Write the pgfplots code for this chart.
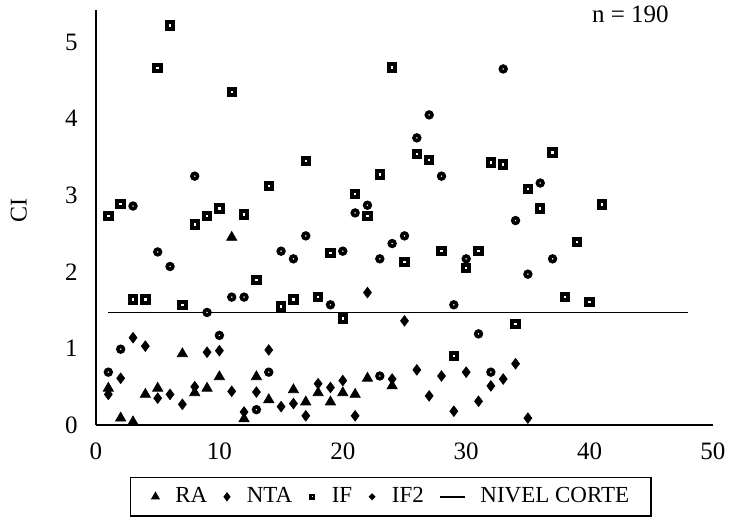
\documentclass[border=0pt]{standalone}
\usepackage{pgfplots}
\pgfplotsset{compat=1.18}
\usepackage{fontspec}
\setmainfont{Liberation Serif}

\begin{document}
\begin{tikzpicture}
\begin{axis}[
    width=308.5pt, height=207.5pt, scale only axis,
    xmin=0, xmax=50, ymin=0, ymax=5.42,
    axis lines=left, axis line style={-, line width=1pt},
    xtick={0,10,20,30,40,50}, ytick={0,1,2,3,4,5},
    tick style={draw=none},
    /pgf/number format/assume math mode=true,
    ticklabel style={font=\fontsize{12.5}{14}\selectfont},
    yticklabel style={xshift=-3.5pt},
    xticklabel style={yshift=-3.5pt},
    ylabel={CI}, ylabel style={font=\fontsize{12}{14}\selectfont, at={(axis description cs:-0.125,0.518)}, anchor=center},
    legend columns=-1,
    legend style={at={(0.478,-0.125)}, anchor=north, draw=black, line width=0.8pt,
        font=\fontsize{11.5}{13}\selectfont, inner xsep=10pt, inner ysep=3pt,
        nodes={inner xsep=1pt},
        /tikz/every odd column/.append style={column sep=6.5pt},
        /tikz/every even column/.append style={column sep=6.5pt}},
    clip=false,
]
\coordinate (O) at (rel axis cs:0,0);
\addplot[only marks, mark=triangle*, mark size=2.9pt, black,
    legend image code/.code={\path (-2pt,0pt) (2pt,0pt); \draw[black, only marks, mark=triangle*, mark size=1.9pt] plot coordinates {(0pt,0pt)};}] coordinates {
(1,0.48) (2,0.09) (3,0.04) (4,0.40) (5,0.48) (7,0.93) (8,0.42) (9,0.48) (10,0.63)
(11,2.45) (12,0.08) (13,0.63) (14,0.33) (16,0.46) (17,0.30) (18,0.42) (19,0.30)
(20,0.42) (21,0.40) (22,0.61) (24,0.51)
};
\addlegendentry{RA}
\addplot[only marks, mark=diamond*, mark size=2.6pt, black,
    legend image code/.code={\path (-2pt,0pt) (2pt,0pt); \draw[black, only marks, mark=diamond*, mark size=1.7pt] plot coordinates {(0pt,0pt)};}] coordinates {
(1,0.40) (2,0.61) (3,1.14) (4,1.03) (5,0.35) (6,0.40) (7,0.27) (8,0.50) (9,0.95)
(10,0.97) (11,0.44) (12,0.17) (13,0.43) (14,0.98) (15,0.24) (16,0.28) (17,0.12)
(18,0.54) (19,0.49) (20,0.58) (21,0.12) (22,1.73) (24,0.60) (25,1.36) (26,0.72)
(27,0.38) (28,0.64) (29,0.18) (30,0.69) (31,0.31) (32,0.51) (33,0.60) (34,0.80)
(35,0.09)
};
\addlegendentry{NTA}
\addplot[only marks, mark=square*, mark size=1.6pt, black, mark options={fill=white, line width=2pt},
    legend image code/.code={\path (-2pt,0pt) (2pt,0pt); \draw[black, only marks, mark=square*, mark size=0.9pt, mark options={fill=white, line width=1.3pt}] plot coordinates {(0pt,0pt)};}] coordinates {
(1,2.73) (2,2.89) (3,1.64) (4,1.64) (5,4.66) (6,5.22) (7,1.57) (8,2.62) (9,2.73)
(10,2.83) (11,4.35) (12,2.75) (13,1.89) (14,3.12) (15,1.55) (16,1.64) (17,3.45)
(18,1.67) (19,2.25) (20,1.39) (21,3.02) (22,2.73) (23,3.27) (24,4.67) (25,2.13)
(26,3.54) (27,3.46) (28,2.27) (29,0.90) (30,2.05) (31,2.27) (32,3.43) (33,3.40)
(34,1.32) (35,3.08) (36,2.83) (37,3.56) (38,1.67) (39,2.39) (40,1.61) (41,2.88)
};
\addlegendentry{IF}
\addplot[only marks, mark=*, mark size=1.4pt, black, mark options={fill=white, line width=1.8pt},
    legend image code/.code={\path (-2pt,0pt) (2pt,0pt); \draw[black, only marks, mark=*, mark size=0.9pt, mark options={fill=white, line width=1.2pt}] plot coordinates {(0pt,0pt)};}] coordinates {
(1,0.69) (2,0.99) (3,2.86) (5,2.26) (6,2.07) (8,3.25) (9,1.47) (10,1.17) (11,1.67)
(12,1.67) (13,0.20) (14,0.69) (15,2.27) (16,2.17) (17,2.47) (19,1.57) (20,2.27)
(21,2.77) (22,2.87) (23,2.17) (23,0.64) (24,2.37) (25,2.47) (26,3.75) (27,4.05)
(28,3.25) (29,1.57) (30,2.17) (31,1.19) (32,0.69) (33,4.65) (34,2.67) (35,1.97)
(36,3.16) (37,2.17)
};
\addlegendentry{IF2}
\addplot[black, line width=0.7pt, no marks,
    legend image code/.code={\draw[black, line width=0.8pt] (0pt,0pt) -- (12.5pt,0pt);}] coordinates {
(1,1.47) (48,1.47)
};
\addlegendentry{NIVEL CORTE}
\node[font=\fontsize{12.5}{14}\selectfont, anchor=center] at (axis cs:43.3,5.36) {n = 190};
\end{axis}
\pgfresetboundingbox
\path ([shift={(-48pt,-49.5pt)}]O) rectangle ([shift={(317pt,212.5pt)}]O);
\end{tikzpicture}
\end{document}
